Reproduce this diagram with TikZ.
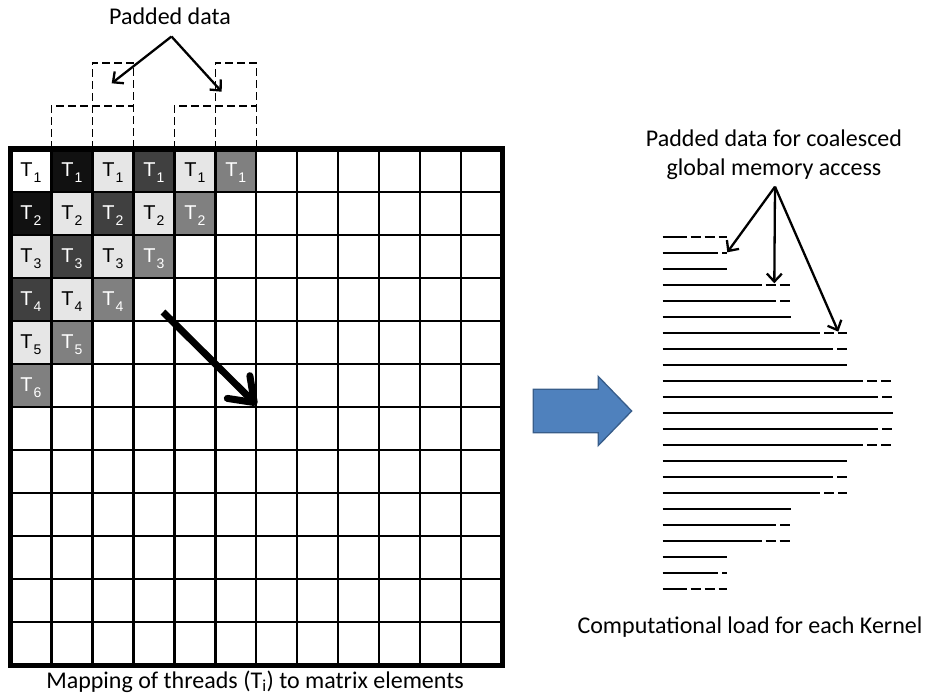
\documentclass[tikz,border=0pt]{standalone}
\usepackage{fontspec}
\setmainfont{Carlito}
\newfontfamily\arialfont{Liberation Sans}
\usetikzlibrary{arrows.meta}

\definecolor{cellblack}{HTML}{111111}
\definecolor{celldark}{HTML}{404040}
\definecolor{celllight}{HTML}{E6E6E6}
\definecolor{cellmid}{HTML}{808080}
\definecolor{blockblue}{HTML}{4F81BD}
\definecolor{blockedge}{HTML}{385D8A}

\newcommand{\thr}[1]{{\arialfont T\kern1pt\raisebox{-6pt}{\fontsize{14}{14}\selectfont #1}}}

\begin{document}
\begin{tikzpicture}[
    x=1pt, y=-1pt,
    every node/.style={font=\fontsize{24}{29}\selectfont, inner sep=0pt},
    cell/.style={font=\fontsize{20}{20}\selectfont},
    gridline/.style={line width=2.4pt},
    padbox/.style={draw, line width=1.3pt, dash pattern=on 8pt off 4pt},
    callout/.style={line width=2.3pt, -{Straight Barb[length=8pt,width=15pt]}},
    loadline/.style={line width=1.8pt},
    padline/.style={line width=1.8pt, dash pattern=on 10pt off 4pt, dash phase=10pt}
]
    \useasboundingbox (0,0) rectangle (926,698);
    \def\xo{10.5} \def\yo{149}
    \def\xe{502} \def\ye{665}
    \def\cw{40.96} \def\rh{43}

    % thread cells along the anti-diagonals
    \foreach \d/\fillc/\textc in {0/white/black, 1/cellblack/white, 2/celllight/black,
                                  3/celldark/white, 4/celllight/black, 5/cellmid/white}{
        \foreach \r in {0,...,\d}{
            \pgfmathtruncatemacro{\c}{\d-\r}
            \pgfmathtruncatemacro{\t}{\r+1}
            \fill[\fillc] ({\xo+\c*\cw},{\yo+\r*\rh}) rectangle ++(\cw,\rh);
            \node[cell, text=\textc] (t\r\c) at ({\xo+(\c+0.5)*\cw},{\yo+(\r+0.5)*\rh+2}) {\thr{\t}};
        }
    }

    % matrix grid
    \foreach \k in {1,...,11}{
        \draw[gridline] ({\xo+\k*\cw},\yo) -- ({\xo+\k*\cw},\ye);
        \draw[gridline] (\xo,{\yo+\k*\rh}) -- (\xe,{\yo+\k*\rh});
    }
    \draw[line width=5pt] (\xo,\yo) rectangle (\xe,\ye);

    % padded cells above the matrix
    \foreach \c in {1,4}{
        \draw[padbox] ({\xo+\c*\cw},\yo) -- ({\xo+\c*\cw},{\yo-\rh}) -- ({\xo+(\c+2)*\cw},{\yo-\rh});
        \draw[padbox] ({\xo+(\c+1)*\cw},\yo) -- ({\xo+(\c+1)*\cw},{\yo-2*\rh})
            -- ({\xo+(\c+2)*\cw},{\yo-2*\rh}) -- ({\xo+(\c+2)*\cw},\yo);
    }

    \node[anchor=base] (padlabel) at (170,25) {Padded data};
    \coordinate (padapex) at (171.5,36.5);
    \coordinate (padtipa) at (111.7,83.3);
    \coordinate (padtipb) at (221.7,91.7);
    \draw[callout] (padapex) -- (padtipa);
    \draw[callout] (padapex) -- (padtipb);

    % direction of the thread sweep
    \coordinate (sweepstart) at (163,312);
    \coordinate (sweepend) at (256.7,405);
    \draw[line width=7pt, -{Straight Barb[length=22pt,width=32pt,round]}] (sweepstart) -- (sweepend);

    \node[anchor=base] (gridcaption) at (255,688) {Mapping of threads (T\textsubscript{i}) to matrix elements};

    % block arrow
    \filldraw[fill=blockblue, draw=blockedge, line width=1.3pt]
        (533.3,389.3) -- (598.3,389.3) -- (598.3,376.5) -- (631.7,411) --
        (598.3,445.5) -- (598.3,432.7) -- (533.3,432.7) -- cycle;

    % computational load per kernel
    \foreach \k/\s/\e in {0/686.7/727, 1/718.3/727, 2/727/727,
                          3/761.7/790.7, 4/776/790.7, 5/790.7/790.7,
                          6/820/846.7, 7/833.3/846.7, 8/846.7/846.7,
                          9/863.3/893.3, 10/878.3/893.3, 11/893.3/893.3,
                          12/878.3/893.3, 13/863.3/893.3, 14/846.7/846.7,
                          15/833.3/846.7, 16/820/846.7, 17/790.7/790.7,
                          18/776/790.7, 19/761.7/790.7, 20/727/727,
                          21/718.3/727, 22/686.7/727}{
        \draw[loadline] (662.7,{237.3+16*\k}) -- (\s,{237.3+16*\k});
        \draw[padline] (\s,{237.3+16*\k}) -- (\e,{237.3+16*\k});
    }

    \node[align=center] (loadlabel) at (774,155) {Padded data for coalesced\\global memory access};
    \coordinate (loadapex) at (775,186.7);
    \coordinate (loadtipa) at (727.3,252.3);
    \coordinate (loadtipb) at (774.3,283.3);
    \coordinate (loadtipc) at (838.3,331.7);
    \draw[callout] (loadapex) -- (loadtipa);
    \draw[callout] (loadapex) -- (loadtipb);
    \draw[callout] (loadapex) -- (loadtipc);

    \node[anchor=base] (loadcaption) at (750,633) {Computational load for each Kernel};
\end{tikzpicture}
\end{document}
